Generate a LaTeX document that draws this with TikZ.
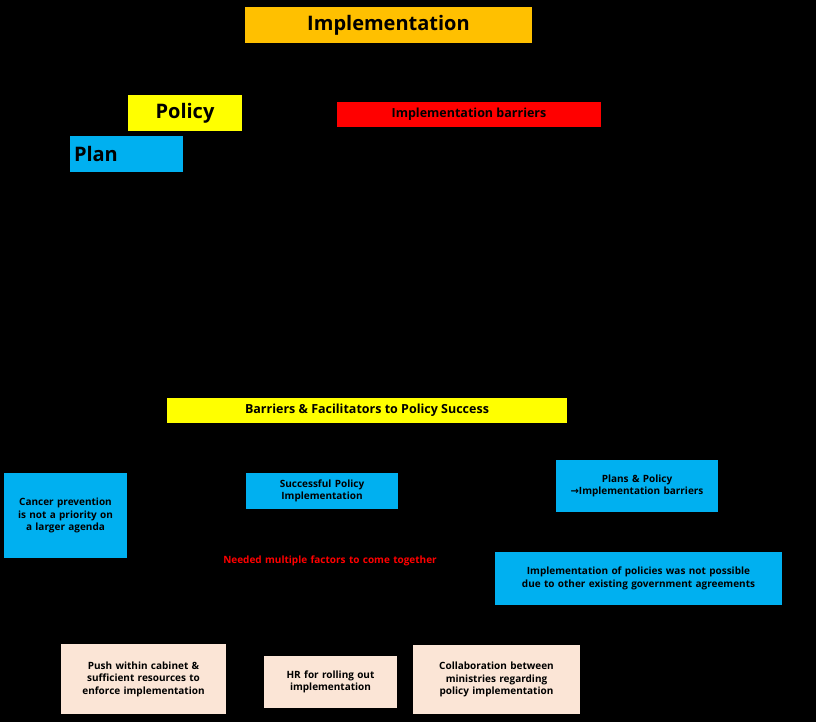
\documentclass[tikz,border=0pt]{standalone}
\usepackage{fontspec}
\setmainfont{Open Sans}
\newfontfamily\arrfont{DejaVu Sans}
\definecolor{cOr}{HTML}{FFC000}
\definecolor{cYe}{HTML}{FFFF00}
\definecolor{cRe}{HTML}{FF0000}
\definecolor{cBl}{HTML}{00B0F0}
\definecolor{cPe}{HTML}{FBE5D6}
\begin{document}
\begin{tikzpicture}[x=1pt,y=-1pt,
  box/.style={inner sep=1pt, font=\bfseries, text=black, align=center},
  big/.style={box, font=\bfseries\fontsize{20}{24}\selectfont},
  sm/.style={box, font=\bfseries\fontsize{10}{12.5}\selectfont},
  md/.style={box, font=\bfseries\fontsize{12.5}{15}\selectfont}]
\fill[black] (0,0) rectangle (816,722);
\useasboundingbox (0,0) rectangle (816,722);
\node[big, fill=cOr, minimum width=287, minimum height=36] (impl) at (388.5,25) {Implementation};
\node[big, fill=cYe, minimum width=114, minimum height=36] (policy) at (185,113) {Policy};
\node[md, fill=cRe, minimum width=264, minimum height=25] (barr) at (469,114.5) {Implementation barriers};
\node[big, fill=cBl, minimum width=113, minimum height=36, text width=105, align=left] (plan) at (126.5,154) {Plan};
\node[md, fill=cYe, minimum width=400, minimum height=25] (bf) at (367,410.5) {Barriers \& Facilitators to Policy Success};
\node[sm, fill=cBl, minimum width=123, minimum height=85, text width=115] (cancer) at (65.5,515.5) {Cancer prevention is not a priority on a larger agenda};
\node[sm, fill=cBl, minimum width=152, minimum height=36, text width=145] (succ) at (322,491) {Successful Policy Implementation};
\node[sm, fill=cBl, minimum width=162, minimum height=52, text width=155] (pp) at (637,486) {Plans \& Policy\\{\arrfont\bfseries →}Implementation barriers};
\node[sm, text=cRe, text width=220] (need) at (330,561) {Needed multiple factors to come together};
\node[sm, fill=cBl, minimum width=287, minimum height=53, text width=280] (ipol) at (638.5,578.5) {Implementation of policies was not possible due to other existing government agreements};
\node[sm, fill=cPe, minimum width=165, minimum height=70, text width=158] (push) at (143.5,679) {Push within cabinet \& sufficient resources to enforce implementation};
\node[sm, fill=cPe, minimum width=133, minimum height=52, text width=126] (hr) at (330.5,682) {HR for rolling out implementation};
\node[sm, fill=cPe, minimum width=167, minimum height=69, text width=160] (coll) at (496.5,679.5) {Collaboration between ministries regarding policy implementation};
\end{tikzpicture}
\end{document}
